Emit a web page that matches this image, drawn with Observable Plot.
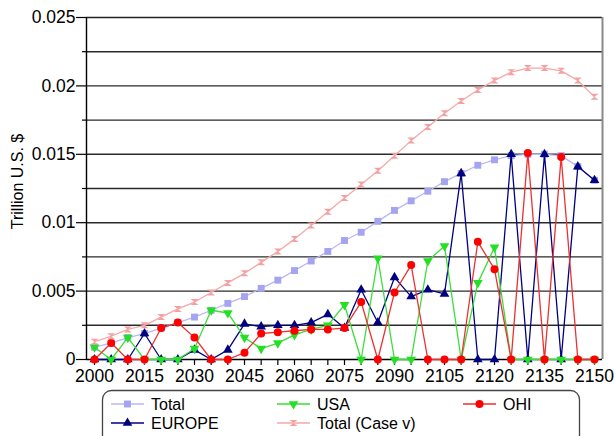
<!DOCTYPE html>
<html>
<head>
<meta charset="utf-8">
<script src="https://cdn.jsdelivr.net/npm/d3@7"></script>
<script src="https://cdn.jsdelivr.net/npm/@observablehq/plot@0.6"></script>
<style>
  html, body { margin: 0; padding: 0; background: #fff; overflow: hidden; }
  #chart svg, #legend svg { display: block; }
</style>
</head>
<body>
<div id="chart"></div>
<div id="legend"></div>
<script>
// ---- data (trillion U.S. $) ----
const years = [2000,2005,2010,2015,2020,2025,2030,2035,2040,2045,2050,2055,2060,2065,2070,2075,2080,2085,2090,2095,2100,2105,2110,2115,2120,2125,2130,2135,2140,2145,2150];
const total = [0.0009,0.0012,0.0016,0.0019,0.0023,0.0027,0.0031,0.0036,0.0041,0.0046,0.0052,0.0058,0.0065,0.0072,0.0079,0.0087,0.0093,0.0101,0.0109,0.0116,0.0123,0.0130,0.0136,0.0142,0.0146,0.0149,0.0150,0.0150,0.0149,0.0141,0.0131];
const europe = [0,0,0,0.0019,0,0,0.0007,0,0.0007,0.0026,0.0024,0.0025,0.0025,0.0027,0.0033,0.0023,0.0051,0.0027,0.0060,0.0046,0.0051,0.0048,0.0136,0,0,0.0150,0,0.0150,0,0.0141,0.0131];
const usa = [0.0009,0,0.0016,0,0,0,0.0008,0.0036,0.0034,0.0016,0.0008,0.0012,0.0018,0.0022,0.0025,0.0040,0,0.0074,0,0,0.0072,0.0083,0,0.0056,0.0082,0,0,0,0,0,0];
const ohi = [0,0.0012,0,0,0.0023,0.0027,0.0016,0,0,0.0005,0.0019,0.0020,0.0021,0.0022,0.0022,0.0023,0.0042,0,0.0049,0.0069,0,0,0,0.0086,0.0066,0,0.0151,0,0.0148,0,0];
const totalCaseV = [0.0013,0.0017,0.0022,0.0025,0.0031,0.0037,0.0042,0.0049,0.0056,0.0063,0.0071,0.0079,0.0088,0.0098,0.0108,0.0118,0.0128,0.0138,0.0149,0.0160,0.0170,0.0180,0.0189,0.0197,0.0204,0.0210,0.0213,0.0213,0.0211,0.0204,0.0192];

const xTicks = years;
const xLabels = [2000,2015,2030,2045,2060,2075,2090,2105,2120,2135,2150];
const yMajor = [0,0.005,0.01,0.015,0.02,0.025];
const yMinor = [0.0025,0.0075,0.0125,0.0175,0.0225];
const yGrid = [0.0025,0.005,0.0075,0.01,0.0125,0.015,0.0175,0.02,0.0225];
const yLabel = "Trillion U.S. $";

// ---- custom symbols ----
const triangleDown = {
  draw(ctx, size) {
    const s = Math.sqrt(size * 4 / Math.sqrt(3));
    const h = s * Math.sqrt(3) / 2;
    ctx.moveTo(0, 2 * h / 3);
    ctx.lineTo(-s / 2, -h / 3);
    ctx.lineTo(s / 2, -h / 3);
    ctx.closePath();
  }
};
const hourglass = {
  draw(ctx, size) {
    const r = Math.sqrt(size / Math.PI);
    const w = r, h = r * 0.75;
    ctx.moveTo(-w, -h);
    ctx.lineTo(w, -h);
    ctx.lineTo(-w, h);
    ctx.lineTo(w, h);
    ctx.closePath();
  }
};

const series = [
  {name: "Total", values: total, line: "#b8b8f6", fill: "#a4a4f0", symbol: "square", r: 3.9},
  {name: "EUROPE", values: europe, line: "#000080", fill: "#000080", symbol: d3.symbolTriangle, r: 3.6},
  {name: "USA", values: usa, line: "#3ade3a", fill: "#22e022", symbol: triangleDown, r: 3.6},
  {name: "OHI", values: ohi, line: "#ee3030", fill: "#ff0000", symbol: "circle", r: 4},
  {name: "Total (Case v)", values: totalCaseV, line: "#f5a8a8", fill: "#f4a0a0", symbol: hourglass, r: 4}
];
const drawOrder = ["Total", "EUROPE", "USA", "OHI", "Total (Case v)"];

const xDomain = [1997.6, 2152.4];
const font = "'Liberation Sans', Arial, Helvetica, sans-serif";

const seriesMarks = drawOrder.flatMap(name => {
  const s = series.find(d => d.name === name);
  const rows = years.map((yr, i) => ({year: yr, value: s.values[i]}));
  return [
    Plot.line(rows, {x: "year", y: "value", stroke: s.line, strokeWidth: 1.3}),
    Plot.dot(rows, {x: "year", y: "value", symbol: () => s.symbol, r: s.r, fill: s.fill, stroke: "none"})
  ];
});

const chart = Plot.plot({
  width: 616,
  height: 388,
  marginLeft: 86,
  marginRight: 14,
  marginTop: 17,
  marginBottom: 29,
  style: {fontFamily: font, fontSize: "17.5px", background: "#fff", color: "#000", overflow: "visible"},
  x: {domain: xDomain, label: null, axis: null},
  y: {domain: [0, 0.025], label: null, axis: null},
  symbol: {type: "identity"},
  marks: [
    Plot.ruleY(yGrid, {stroke: "#2a2a2a", strokeWidth: 1.4}),
    Plot.ruleY([0.025], {stroke: "#222", strokeWidth: 1.4}),
    Plot.ruleX([xDomain[1]], {stroke: "#8a8a8a", strokeWidth: 2}),
    Plot.ruleX([xDomain[0]], {stroke: "#000", strokeWidth: 1.4}),
    Plot.ruleY([0], {stroke: "#000", strokeWidth: 1.4}),
    Plot.axisX(xTicks, {anchor: "bottom", tickSize: 6, tickPadding: 4, stroke: "#000", strokeWidth: 1.2, fontSize: 17.5,
      tickFormat: d => xLabels.includes(d) ? String(d) : "", label: null}),
    Plot.axisY(yMajor, {anchor: "left", tickSize: 10, tickPadding: 1, stroke: "#000", strokeWidth: 1.2, fontSize: 17.5,
      tickFormat: d => d === 0 ? "0" : String(+d.toFixed(4)), label: null}),
    Plot.axisY(yMinor, {anchor: "left", tickSize: 4, stroke: "#000", strokeWidth: 1.2, tickFormat: () => "", label: null}),
    Plot.text([yLabel], {frameAnchor: "left", textAnchor: "middle", dx: -69, dy: -7, rotate: -90, fontSize: 16, fill: "#000", text: d => d}),
    ...seriesMarks
  ]
});
document.getElementById("chart").appendChild(chart);

// ---- legend ----
const legendItems = [
  {name: "Total", col: 0, row: 0},
  {name: "EUROPE", col: 0, row: 1},
  {name: "USA", col: 1, row: 0},
  {name: "Total (Case v)", col: 1, row: 1},
  {name: "OHI", col: 2, row: 0}
];
const colX = [111, 277, 463];
const rowY = [16, 35];
const lg = d3.select("#legend").append("svg").attr("width", 616).attr("height", 48)
  .style("font-family", font);
lg.append("rect").attr("x", 102.5).attr("y", 2.5).attr("width", 477).attr("height", 70)
  .attr("rx", 9).attr("fill", "#fff").attr("stroke", "#444").attr("stroke-width", 1.3);
for (const it of legendItems) {
  const s = series.find(d => d.name === it.name);
  const x = colX[it.col], y = rowY[it.row];
  lg.append("line").attr("x1", x).attr("x2", x + 33).attr("y1", y).attr("y2", y)
    .attr("stroke", s.line).attr("stroke-width", 1.3);
  const sym = typeof s.symbol === "string" ? (s.symbol === "square" ? d3.symbolSquare : d3.symbolCircle) : s.symbol;
  lg.append("path").attr("transform", `translate(${x + 16.5},${y})`)
    .attr("d", d3.symbol(sym, s.r * s.r * Math.PI)()).attr("fill", s.fill);
  lg.append("text").attr("x", x + 40).attr("y", y).attr("dy", "0.35em")
    .attr("font-size", 16).attr("fill", "#000").text(s.name);
}
</script>
</body>
</html>
